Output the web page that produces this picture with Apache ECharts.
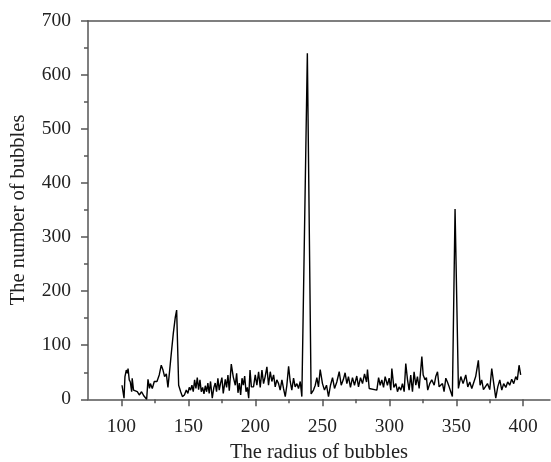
<!DOCTYPE html>
<html>
<head>
<meta charset="utf-8">
<script src="https://cdn.jsdelivr.net/npm/echarts@6/dist/echarts.min.js"></script>
<style>
html, body { margin: 0; padding: 0; background: #fff; }
#main { width: 551px; height: 462px; }
</style>
</head>
<body>
<div id="main"></div>
<script>
// radius of bubbles (x) and number of bubbles (y)
var radius = [
  100.4,101.2,101.9,102.6,103.6,104.4,104.9,105.8,106.6,107.6,108,109,110,111.8,113.3,115,116.8,118.8,119.8,120.9,
  121.6,123,124.5,126.5,128.2,129.7,131,132.2,133.5,134.7,136,137.2,138.7,140.2,141.2,142.7,144.2,145.5,
  147,148.4,149.6,150.6,151.6,152.6,153.6,154.6,155.6,156.6,157.6,158.6,159.6,160.6,161.6,162.6,163.6,164.5,165.5,166.5,
  167.8,169,170,171,172,173,174,175,176,177.5,178.5,179.5,180.5,182,183.5,185,186,187,188,189,190,191,192,193,194,195,196,197,
  198.6,199.9,201.1,202.4,203.6,204.9,206.1,207.3,208.6,209.8,211.1,212.3,213.6,214.8,216,217.3,218.5,219.8,221,222.3,
  223.5,224.8,226,227.2,228.5,229.7,231,232.2,233.5,234.7,
  236,238.8,241.6,
  243.4,244.7,245.9,247.1,248.4,250.1,251.6,253.1,254.6,256.1,257.6,259.1,260.8,262.6,264.1,265.6,267,268.3,269.5,271,
  272.5,274,275.7,277,278.5,280,281.5,283,283.7,285,290.7,292,293.2,294.4,295.7,296.9,
  298.6,299.9,301.1,301.9,303.4,304.9,306.1,307.3,308.6,309.8,311.1,312.3,313.6,314.8,316,317.3,318.5,319.8,321,322.3,
  324.3,325.3,326.7,327.7,328.7,330.2,331.7,333.5,334.7,336,337.2,338.4,339.7,340.9,342.2,343.4,344.7,345.9,347.1,
  349.1,351.6,
  353.4,355.1,357.1,358.6,360.1,361.6,363,364.5,366.5,367.8,369,370.3,371.5,373.3,375,376.5,378,379.5,381,382.5,
  384,385.4,387,388.4,389.9,391.4,392.9,394.4,395.6,396.9,398.1
];
var counts = [
  26,24,2,42,54,48,57,36,32,14,39,17,20,14,8,14,6,0,37,20,
  29,20,33,33,45,63,54,42,47,22,54,85,122,152,165,26,14,5,
  8,17,11,22,17,26,14,36,20,40,18,36,14,22,10,25,14,30,11,33,
  2,22,30,14,39,17,30,40,11,37,22,45,16,65,41,26,48,12,30,8,39,26,43,14,22,2,54,23,
  23,45,26,51,22,54,29,42,60,26,51,33,45,23,36,29,17,36,20,5,
  26,61,33,17,39,23,29,20,33,5,
  8,640,10,
  17,26,40,23,55,29,17,26,5,26,40,20,32,51,26,36,49,29,42,22,
  40,26,43,23,40,29,47,32,55,20,17,40,26,36,22,42,
  26,39,17,57,22,29,14,23,17,29,14,66,36,17,45,14,51,26,42,20,
  79,45,36,40,17,29,36,26,42,51,23,20,29,14,39,32,23,14,5,
  352,20,
  42,29,45,23,32,20,22,42,72,26,36,18,17,29,18,57,29,2,23,36,
  17,29,22,32,26,37,29,42,36,63,45
];
var xTicks = [100, 150, 200, 250, 300, 350, 400];
var xMinorTicks = [125, 175, 225, 275, 325, 375];

var font = 'Liberation Serif';
var axisColor = '#555';
var textColor = '#222';

var data = radius.map(function (r, i) { return [r, counts[i]]; });

var option = {
    backgroundColor: '#fff',
    animation: false,
    grid: { left: 88, right: 1, top: 20.7, bottom: 62.7, outerBoundsMode: 'none', containLabel: false },
    xAxis: [
        {
            type: 'value', min: 75, max: 420, position: 'bottom',
            name: 'The radius of bubbles', nameLocation: 'middle', nameGap: 39,
            nameTextStyle: { fontFamily: font, fontSize: 20.5, color: textColor },
            axisLine: { show: true, onZero: false, lineStyle: { color: axisColor, width: 1.5 } },
            axisTick: { show: true, customValues: xTicks, length: 7, lineStyle: { color: axisColor, width: 1.5 } },
            axisLabel: { customValues: xTicks, margin: 18, fontFamily: font, fontSize: 19.5, color: textColor },
            splitLine: { show: false }
        },
        {
            type: 'value', min: 75, max: 420, position: 'bottom',
            axisLine: { show: false, onZero: false },
            axisTick: { show: true, customValues: xMinorTicks, length: 4, lineStyle: { color: axisColor, width: 1.5 } },
            axisLabel: { show: false },
            splitLine: { show: false }
        },
        {
            type: 'value', min: 75, max: 420, position: 'top',
            axisLine: { show: true, onZero: false, lineStyle: { color: axisColor, width: 1.5 } },
            axisTick: { show: false },
            axisLabel: { show: false },
            splitLine: { show: false }
        }
    ],
    yAxis: {
        type: 'value', min: 0, max: 700, interval: 100,
        name: 'The number of bubbles', nameLocation: 'middle', nameGap: 59,
        nameTextStyle: { fontFamily: font, fontSize: 20.5, color: textColor },
        axisLine: { show: true, onZero: false, lineStyle: { color: axisColor, width: 1.5 } },
        axisTick: { show: true, length: 7, lineStyle: { color: axisColor, width: 1.5 } },
        minorTick: { show: true, splitNumber: 2, length: 4, lineStyle: { color: axisColor, width: 1.5 } },
        axisLabel: { margin: 17, fontFamily: font, fontSize: 19.5, color: textColor },
        splitLine: { show: false }
    },
    series: [
        {
            type: 'line',
            xAxisIndex: 0,
            data: data,
            showSymbol: false,
            lineStyle: { color: '#000', width: 1.4 }
        }
    ]
};

var myChart = echarts.init(document.getElementById('main'));
myChart.setOption(option);
</script>
</body>
</html>
